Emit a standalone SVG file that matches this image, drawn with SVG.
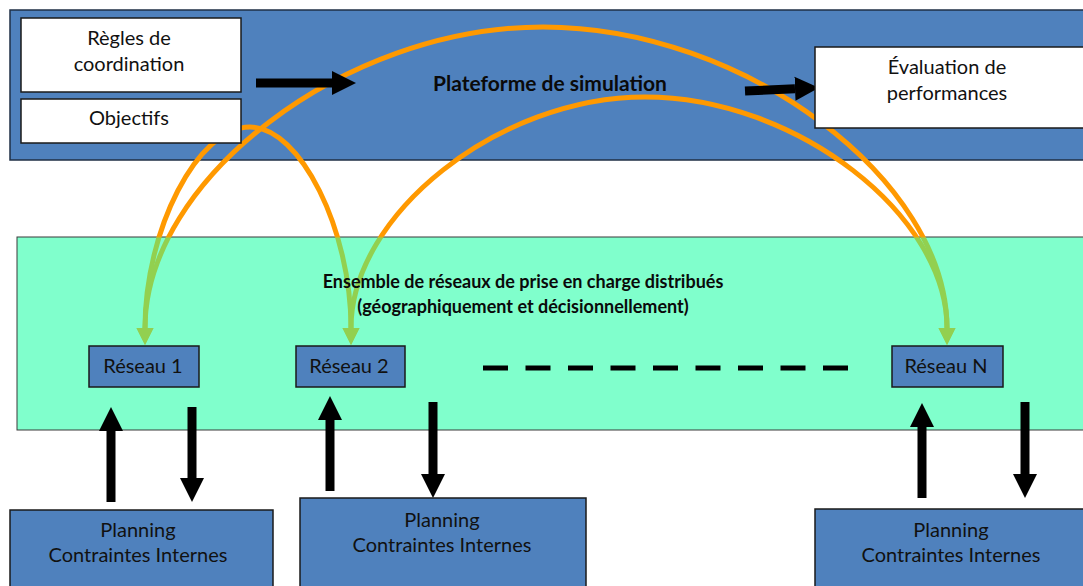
<svg xmlns="http://www.w3.org/2000/svg" width="1083" height="586" viewBox="0 0 1083 586">
<style>
.panel{fill:#4F81BD;stroke:#1f2f45;stroke-width:1.5}
.green{fill:#80FFCC;stroke:#3a3a3a;stroke-width:1}
.wbox{fill:#ffffff;stroke:#1a1a1a;stroke-width:1.5}
.bbox{fill:#4F81BD;stroke:#1a1a1a;stroke-width:1.5}
.t{font-family:Lato,"Liberation Sans",Arial,sans-serif;font-size:20px;fill:#111;text-anchor:middle}
.b{font-family:Lato,"Liberation Sans",Arial,sans-serif;font-weight:bold;fill:#0a0a0a;text-anchor:middle}
.arc{fill:none;stroke:url(#og);stroke-width:5;marker-start:url(#gh);marker-end:url(#gh)}
.blk{fill:none;stroke:#000;stroke-width:9;marker-end:url(#bh)}
</style>
<defs>
<linearGradient id="og" gradientUnits="userSpaceOnUse" x1="0" y1="0" x2="0" y2="586">
<stop offset="0" stop-color="#FF9900"/>
<stop offset="0.403" stop-color="#FF9900"/>
<stop offset="0.407" stop-color="#92D050"/>
<stop offset="1" stop-color="#92D050"/>
</linearGradient>
<marker id="gh" markerUnits="userSpaceOnUse" viewBox="0 -10 20 20" refX="0" refY="0" markerWidth="20" markerHeight="20" orient="auto-start-reverse">
<path d="M0,-8.5 L17,0 L0,8.5 z" fill="#92D050"/>
</marker>
<marker id="bh" markerUnits="userSpaceOnUse" viewBox="0 -13 26 26" refX="0" refY="0" markerWidth="26" markerHeight="26" orient="auto">
<path d="M0,-12 L24,0 L0,12 z" fill="#000"/>
</marker>
</defs>
<rect width="1083" height="586" fill="#fff"/>
<g id="plateforme-bg"><rect class="panel" x="10" y="10" width="1085" height="150"/></g>
<g id="ensemble-bg"><rect class="green" x="17" y="237" width="1080" height="193"/></g>
<g id="connectors">
<path class="arc" d="M145,328 C145,180 344,27 543,27 C745,27 947,180 947,328"/>
<path class="arc" d="M351,328 C351,215 498,97 645,97 C796,97 947,215 947,328"/>
<path class="arc" d="M145,328 C145,230 197.5,127 250,127 C300.5,127 351,230 351,328"/>
<path class="blk" d="M256,83 L332,83"/>
<path class="blk" d="M745,91 L795,88.8"/>
<path class="blk" d="M111,502 L111,431"/>
<path class="blk" d="M192,407 L192,478"/>
<path class="blk" d="M330,491 L330,420"/>
<path class="blk" d="M433,402 L433,474"/>
<path class="blk" d="M922,498 L922,427"/>
<path class="blk" d="M1025,402 L1025,474"/>
<path d="M483,368 L850,368" fill="none" stroke="#000" stroke-width="5" stroke-dasharray="25 17.5"/>
</g>
<g id="plateforme-label"><text class="b" x="550" y="91" font-size="21">Plateforme de simulation</text></g>
<g id="ensemble-label">
<text class="b" x="523" y="288" font-size="18">Ensemble de réseaux de prise en charge distribués</text>
<text class="b" x="523" y="313" font-size="18">(géographiquement et décisionnellement)</text>
</g>
<g id="regles"><rect class="wbox" x="21" y="18" width="220" height="74"/>
<text class="t" x="129" y="45">Règles de</text><text class="t" x="129" y="71">coordination</text></g>
<g id="objectifs"><rect class="wbox" x="21" y="99" width="220" height="44"/>
<text class="t" x="129" y="125">Objectifs</text></g>
<g id="evaluation"><rect class="wbox" x="815" y="47" width="275" height="81"/>
<text class="t" x="947" y="74">Évaluation de</text><text class="t" x="947" y="100">performances</text></g>
<g id="reseau1"><rect class="bbox" x="89" y="346" width="110" height="41"/><text class="t" x="143" y="373" font-size="19">Réseau 1</text></g>
<g id="reseau2"><rect class="bbox" x="296" y="346" width="109" height="41"/><text class="t" x="349" y="373" font-size="19">Réseau 2</text></g>
<g id="reseauN"><rect class="bbox" x="892" y="346" width="111" height="41"/><text class="t" x="946" y="373" font-size="19">Réseau N</text></g>
<g id="planning1"><rect class="bbox" x="10" y="510" width="263" height="85"/>
<text class="t" x="138" y="537" font-size="20.5">Planning</text><text class="t" x="138" y="562" font-size="20.5">Contraintes Internes</text></g>
<g id="planning2"><rect class="bbox" x="300" y="498" width="286" height="95"/>
<text class="t" x="442" y="527" font-size="20.5">Planning</text><text class="t" x="442" y="552" font-size="20.5">Contraintes Internes</text></g>
<g id="planningN"><rect class="bbox" x="815" y="509" width="275" height="85"/>
<text class="t" x="951" y="537" font-size="20.5">Planning</text><text class="t" x="951" y="562" font-size="20.5">Contraintes Internes</text></g>
</svg>
